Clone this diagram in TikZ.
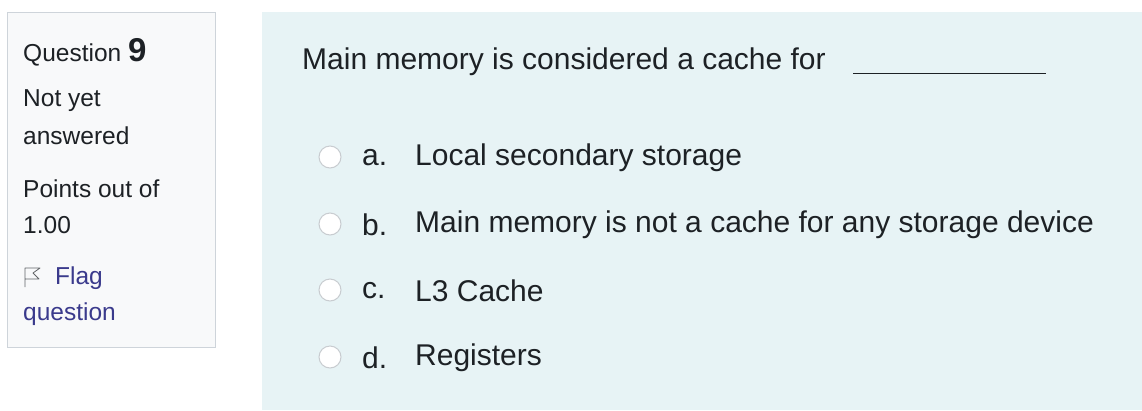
\documentclass[tikz,border=0pt]{standalone}
\usepackage{fontspec}
\setmainfont{Liberation Sans}
\definecolor{txt}{HTML}{1D2125}
\definecolor{lnk}{HTML}{3A3A8C}
\definecolor{side}{HTML}{F8F9FA}
\definecolor{sideb}{HTML}{CED4DA}
\definecolor{panel}{HTML}{E7F3F5}
\definecolor{radio}{HTML}{C8CCD0}
\begin{document}
\begin{tikzpicture}[x=1pt,y=-1pt,
  lbl/.style={anchor=west,inner sep=0pt,text=txt,font=\fontsize{24.5}{28}\selectfont},
  opt/.style={anchor=west,inner sep=0pt,text=txt,font=\fontsize{30}{34}\selectfont},
  rad/.style={circle,draw=radio,fill=white,line width=1pt,minimum size=22pt,inner sep=0pt}]
\useasboundingbox (0,0) rectangle (1142,410);
\fill[white] (0,0) rectangle (1142,410);
\path[fill=side,draw=sideb,line width=1pt] (7,12) rectangle (215,347);
\fill[panel] (262,12) rectangle (1142,410);
\node[lbl] (q) at (23,52) {Question \fontsize{33}{35}\selectfont\bfseries 9};
\node[lbl] (n1) at (23,101) {Not yet};
\node[lbl] (n2) at (23,136) {answered};
\node[lbl] (p1) at (23,189) {Points out of};
\node[lbl] (p2) at (23,225) {1.00};
\draw[txt!70,line width=0.8pt,line join=round] (25,287) -- (25,268) -- (40,268) -- (33,273) -- (39,279) -- (25,279);
\node[lbl,text=lnk] (f1) at (55,278) {Flag};
\node[lbl,text=lnk] (f2) at (23,314) {question};
\node[opt] (qt) at (302,62) {Main memory is considered a cache for};
\draw[txt,line width=1pt] (853,73) -- (1046,73);
\foreach \y/\l/\t [count=\i] in {157/a./Local secondary storage,224/b./Main memory is not a cache for any storage device,290/c./L3 Cache,357/d./Registers}{
  \node[rad] (r\i) at (330,\y) {};
  \node[opt] (l\i) at (362,\y+1) {\l};
  \node[opt] (t\i) at (415,\y+1) {\t};
}
\end{tikzpicture}
\end{document}
